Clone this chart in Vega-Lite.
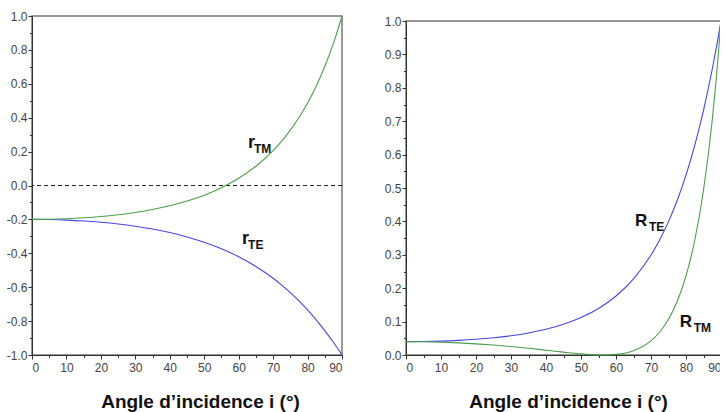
{
  "$schema": "https://vega.github.io/schema/vega-lite/v6.json",
  "background": "white",
  "padding": {"left": 5, "top": 9, "right": -4, "bottom": 2},
  "spacing": 38,
  "config": {
    "view": {"stroke": "#777777", "strokeWidth": 1.5},
    "axis": {
      "grid": false,
      "labelFont": "Liberation Sans, Arial, sans-serif",
      "labelFontSize": 12,
      "labelColor": "#444444",
      "labelExpr": "replace(datum.label, '−', '-')",
      "tickColor": "#333333",
      "domainColor": "#333333",
      "tickSize": 4,
      "titleFont": "Liberation Sans, Arial, sans-serif",
      "titleFontSize": 19,
      "titleFontWeight": "bold",
      "titleColor": "#111111"
    }
  },
  "datasets": {
    "curves": [
      {"panel": "r", "series": "TE", "angle": 0, "value": -0.2},
      {"panel": "r", "series": "TE", "angle": 5, "value": -0.20102},
      {"panel": "r", "series": "TE", "angle": 10, "value": -0.20411},
      {"panel": "r", "series": "TE", "angle": 15, "value": -0.20937},
      {"panel": "r", "series": "TE", "angle": 20, "value": -0.21698},
      {"panel": "r", "series": "TE", "angle": 25, "value": -0.22721},
      {"panel": "r", "series": "TE", "angle": 30, "value": -0.24041},
      {"panel": "r", "series": "TE", "angle": 35, "value": -0.25706},
      {"panel": "r", "series": "TE", "angle": 40, "value": -0.27777},
      {"panel": "r", "series": "TE", "angle": 45, "value": -0.30334},
      {"panel": "r", "series": "TE", "angle": 50, "value": -0.33474},
      {"panel": "r", "series": "TE", "angle": 55, "value": -0.37319},
      {"panel": "r", "series": "TE", "angle": 60, "value": -0.4202},
      {"panel": "r", "series": "TE", "angle": 65, "value": -0.47756},
      {"panel": "r", "series": "TE", "angle": 70, "value": -0.54735},
      {"panel": "r", "series": "TE", "angle": 72.5, "value": -0.58764},
      {"panel": "r", "series": "TE", "angle": 75, "value": -0.63195},
      {"panel": "r", "series": "TE", "angle": 77.5, "value": -0.68059},
      {"panel": "r", "series": "TE", "angle": 80, "value": -0.73389},
      {"panel": "r", "series": "TE", "angle": 82.5, "value": -0.79218},
      {"panel": "r", "series": "TE", "angle": 85, "value": -0.85577},
      {"panel": "r", "series": "TE", "angle": 87.5, "value": -0.92496},
      {"panel": "r", "series": "TE", "angle": 88.75, "value": -0.96173},
      {"panel": "r", "series": "TE", "angle": 90, "value": -1},
      {"panel": "r", "series": "TM", "angle": 0, "value": -0.2},
      {"panel": "r", "series": "TM", "angle": 5, "value": -0.19898},
      {"panel": "r", "series": "TM", "angle": 10, "value": -0.19589},
      {"panel": "r", "series": "TM", "angle": 15, "value": -0.1906},
      {"panel": "r", "series": "TM", "angle": 20, "value": -0.1829},
      {"panel": "r", "series": "TM", "angle": 25, "value": -0.17248},
      {"panel": "r", "series": "TM", "angle": 30, "value": -0.1589},
      {"panel": "r", "series": "TM", "angle": 35, "value": -0.14155},
      {"panel": "r", "series": "TM", "angle": 40, "value": -0.11962},
      {"panel": "r", "series": "TM", "angle": 45, "value": -0.09201},
      {"panel": "r", "series": "TM", "angle": 50, "value": -0.05725},
      {"panel": "r", "series": "TM", "angle": 55, "value": -0.01334},
      {"panel": "r", "series": "TM", "angle": 60, "value": 0.04245},
      {"panel": "r", "series": "TM", "angle": 65, "value": 0.11386},
      {"panel": "r", "series": "TM", "angle": 70, "value": 0.20613},
      {"panel": "r", "series": "TM", "angle": 72.5, "value": 0.26232},
      {"panel": "r", "series": "TM", "angle": 75, "value": 0.32675},
      {"panel": "r", "series": "TM", "angle": 77.5, "value": 0.40092},
      {"panel": "r", "series": "TM", "angle": 80, "value": 0.48664},
      {"panel": "r", "series": "TM", "angle": 82.5, "value": 0.58616},
      {"panel": "r", "series": "TM", "angle": 85, "value": 0.70232},
      {"panel": "r", "series": "TM", "angle": 87.5, "value": 0.83872},
      {"panel": "r", "series": "TM", "angle": 88.75, "value": 0.91591},
      {"panel": "r", "series": "TM", "angle": 90, "value": 1},
      {"panel": "R", "series": "TE", "angle": 0, "value": 0.04},
      {"panel": "R", "series": "TE", "angle": 5, "value": 0.04041},
      {"panel": "R", "series": "TE", "angle": 10, "value": 0.04166},
      {"panel": "R", "series": "TE", "angle": 15, "value": 0.04384},
      {"panel": "R", "series": "TE", "angle": 20, "value": 0.04708},
      {"panel": "R", "series": "TE", "angle": 25, "value": 0.05162},
      {"panel": "R", "series": "TE", "angle": 30, "value": 0.0578},
      {"panel": "R", "series": "TE", "angle": 35, "value": 0.06608},
      {"panel": "R", "series": "TE", "angle": 40, "value": 0.07716},
      {"panel": "R", "series": "TE", "angle": 45, "value": 0.09201},
      {"panel": "R", "series": "TE", "angle": 50, "value": 0.11205},
      {"panel": "R", "series": "TE", "angle": 55, "value": 0.13927},
      {"panel": "R", "series": "TE", "angle": 60, "value": 0.17657},
      {"panel": "R", "series": "TE", "angle": 65, "value": 0.22806},
      {"panel": "R", "series": "TE", "angle": 70, "value": 0.29959},
      {"panel": "R", "series": "TE", "angle": 72.5, "value": 0.34532},
      {"panel": "R", "series": "TE", "angle": 75, "value": 0.39936},
      {"panel": "R", "series": "TE", "angle": 77.5, "value": 0.4632},
      {"panel": "R", "series": "TE", "angle": 80, "value": 0.5386},
      {"panel": "R", "series": "TE", "angle": 82.5, "value": 0.62755},
      {"panel": "R", "series": "TE", "angle": 85, "value": 0.73234},
      {"panel": "R", "series": "TE", "angle": 87.5, "value": 0.85555},
      {"panel": "R", "series": "TE", "angle": 88.75, "value": 0.92493},
      {"panel": "R", "series": "TE", "angle": 90, "value": 1},
      {"panel": "R", "series": "TM", "angle": 0, "value": 0.04},
      {"panel": "R", "series": "TM", "angle": 5, "value": 0.03959},
      {"panel": "R", "series": "TM", "angle": 10, "value": 0.03837},
      {"panel": "R", "series": "TM", "angle": 15, "value": 0.03633},
      {"panel": "R", "series": "TM", "angle": 20, "value": 0.03345},
      {"panel": "R", "series": "TM", "angle": 25, "value": 0.02975},
      {"panel": "R", "series": "TM", "angle": 30, "value": 0.02525},
      {"panel": "R", "series": "TM", "angle": 35, "value": 0.02004},
      {"panel": "R", "series": "TM", "angle": 40, "value": 0.01431},
      {"panel": "R", "series": "TM", "angle": 45, "value": 0.00847},
      {"panel": "R", "series": "TM", "angle": 50, "value": 0.00328},
      {"panel": "R", "series": "TM", "angle": 55, "value": 0.00018},
      {"panel": "R", "series": "TM", "angle": 56.31, "value": 0},
      {"panel": "R", "series": "TM", "angle": 60, "value": 0.0018},
      {"panel": "R", "series": "TM", "angle": 65, "value": 0.01296},
      {"panel": "R", "series": "TM", "angle": 70, "value": 0.04249},
      {"panel": "R", "series": "TM", "angle": 72.5, "value": 0.06881},
      {"panel": "R", "series": "TM", "angle": 75, "value": 0.10677},
      {"panel": "R", "series": "TM", "angle": 77.5, "value": 0.16073},
      {"panel": "R", "series": "TM", "angle": 80, "value": 0.23681},
      {"panel": "R", "series": "TM", "angle": 82.5, "value": 0.34358},
      {"panel": "R", "series": "TM", "angle": 85, "value": 0.49325},
      {"panel": "R", "series": "TM", "angle": 87.5, "value": 0.70345},
      {"panel": "R", "series": "TM", "angle": 88.75, "value": 0.83888},
      {"panel": "R", "series": "TM", "angle": 90, "value": 1}
    ],
    "labels": [
      {"panel": "r", "main": "r", "sub": "TM", "angle": 62.7, "value": 0.221},
      {"panel": "r", "main": "r", "sub": "TE", "angle": 61.0, "value": -0.345},
      {"panel": "R", "main": "R", "sub": "TE", "angle": 65.4, "value": 0.386},
      {"panel": "R", "main": "R", "sub": "TM", "angle": 78.2, "value": 0.084}
    ],
    "zero": [{"v": 0}]
  },
  "hconcat": [
    {
      "width": 310,
      "height": 339,
      "layer": [
        {
          "data": {"name": "zero"},
          "mark": {"type": "rule", "color": "#222222", "strokeWidth": 1, "strokeDash": [4, 3]},
          "encoding": {
            "y": {"field": "v", "type": "quantitative", "scale": {"domain": [-1, 1], "nice": false}, "axis": null}
          }
        },
        {
          "data": {"name": "curves"},
          "transform": [{"filter": "datum.panel === 'r'"}],
          "mark": {"type": "line", "interpolate": "monotone", "strokeWidth": 1.1},
          "encoding": {
            "x": {"field": "angle", "type": "quantitative", "scale": {"domain": [0, 90], "nice": false},
              "axis": {"values": [0, 10, 20, 30, 40, 50, 60, 70, 80, 90], "labelPadding": 3, "title": "Angle d’incidence i (°)", "titleX": 168, "titleY": 52, "titleBaseline": "alphabetic", "titleAlign": "center"}},
            "y": {"field": "value", "type": "quantitative", "scale": {"domain": [-1, 1], "nice": false},
              "axis": {"values": [-1, -0.8, -0.6, -0.4, -0.2, 0, 0.2, 0.4, 0.6, 0.8, 1], "format": ".1f", "labelPadding": 1, "title": null}},
            "color": {"field": "series", "type": "nominal", "scale": {"domain": ["TE", "TM"], "range": ["#4646e0", "#4a9e4a"]}, "legend": null}
          }
        },
        {
          "data": {"name": "labels"},
          "transform": [{"filter": "datum.panel === 'r'"}],
          "mark": {"type": "text", "align": "left", "baseline": "alphabetic", "font": "Liberation Sans, Arial, sans-serif", "fontWeight": "bold", "fontSize": 18, "color": "#111111"},
          "encoding": {
            "x": {"field": "angle", "type": "quantitative", "axis": {"values": [5, 15, 25, 35, 45, 55, 65, 75, 85], "labels": false, "domain": false, "tickSize": 2.5, "title": null, "orient": "bottom"}},
            "y": {"field": "value", "type": "quantitative", "axis": {"values": [-0.9, -0.7, -0.5, -0.3, -0.1, 0.1, 0.3, 0.5, 0.7, 0.9], "labels": false, "domain": false, "tickSize": 2.5, "title": null, "orient": "left"}},
            "text": {"field": "main"}
          }
        },
        {
          "data": {"name": "labels"},
          "transform": [{"filter": "datum.panel === 'r'"}],
          "mark": {"type": "text", "align": "left", "baseline": "alphabetic", "dx": 6, "dy": 5, "font": "Liberation Sans, Arial, sans-serif", "fontWeight": "bold", "fontSize": 12, "color": "#111111"},
          "encoding": {
            "x": {"field": "angle", "type": "quantitative", "axis": null},
            "y": {"field": "value", "type": "quantitative", "axis": null},
            "text": {"field": "sub"}
          }
        }
      ],
      "resolve": {"axis": {"x": "independent", "y": "independent"}}
    },
    {
      "bounds": "flush",
      "spacing": 4,
      "vconcat": [
        {
          "width": 315,
          "height": 1,
          "view": {"stroke": null},
          "data": {"values": []},
          "mark": {"type": "point", "opacity": 0}
        },
        {
          "width": 315,
          "height": 334,
          "layer": [
            {
              "data": {"name": "curves"},
              "transform": [{"filter": "datum.panel === 'R'"}],
              "mark": {"type": "line", "interpolate": "monotone", "strokeWidth": 1.1},
              "encoding": {
                "x": {"field": "angle", "type": "quantitative", "scale": {"domain": [0, 90], "nice": false},
                  "axis": {"values": [0, 10, 20, 30, 40, 50, 60, 70, 80, 90], "labelPadding": 3, "title": "Angle d’incidence i (°)", "titleX": 162, "titleY": 52, "titleBaseline": "alphabetic", "titleAlign": "center"}},
                "y": {"field": "value", "type": "quantitative", "scale": {"domain": [0, 1], "nice": false},
                  "axis": {"values": [0, 0.1, 0.2, 0.3, 0.4, 0.5, 0.6, 0.7, 0.8, 0.9, 1], "format": ".1f", "labelPadding": 1, "title": null}},
                "color": {"field": "series", "type": "nominal", "scale": {"domain": ["TE", "TM"], "range": ["#4646e0", "#4a9e4a"]}, "legend": null}
              }
            },
            {
              "data": {"name": "labels"},
              "transform": [{"filter": "datum.panel === 'R'"}],
              "mark": {"type": "text", "align": "left", "baseline": "alphabetic", "font": "Liberation Sans, Arial, sans-serif", "fontWeight": "bold", "fontSize": 17, "color": "#111111"},
              "encoding": {
                "x": {"field": "angle", "type": "quantitative", "axis": {"values": [5, 15, 25, 35, 45, 55, 65, 75, 85], "labels": false, "domain": false, "tickSize": 2.5, "title": null, "orient": "bottom"}},
                "y": {"field": "value", "type": "quantitative", "axis": {"values": [0.05, 0.15, 0.25, 0.35, 0.45, 0.55, 0.65, 0.75, 0.85, 0.95], "labels": false, "domain": false, "tickSize": 2.5, "title": null, "orient": "left"}},
                "text": {"field": "main"}
              }
            },
            {
              "data": {"name": "labels"},
              "transform": [{"filter": "datum.panel === 'R'"}],
              "mark": {"type": "text", "align": "left", "baseline": "alphabetic", "dx": 14, "dy": 5, "font": "Liberation Sans, Arial, sans-serif", "fontWeight": "bold", "fontSize": 12, "color": "#111111"},
              "encoding": {
                "x": {"field": "angle", "type": "quantitative", "axis": null},
                "y": {"field": "value", "type": "quantitative", "axis": null},
                "text": {"field": "sub"}
              }
            }
          ],
          "resolve": {"axis": {"x": "independent", "y": "independent"}}
        }
      ]
    }
  ]
}
